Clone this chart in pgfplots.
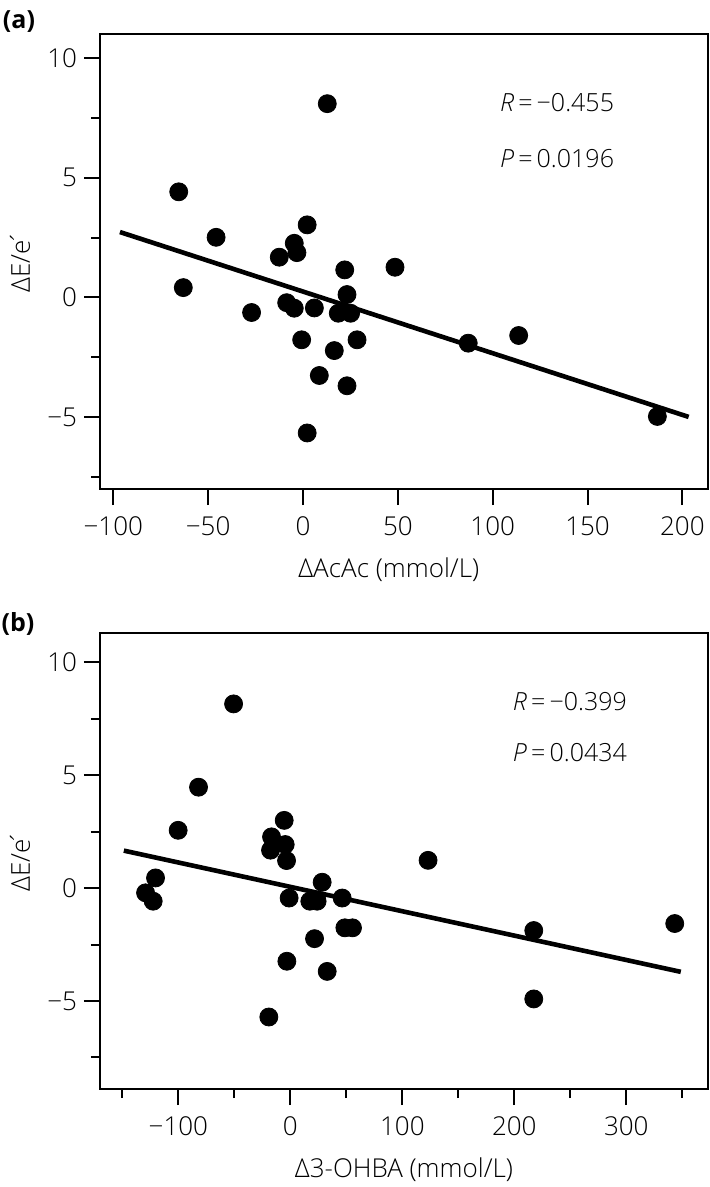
\documentclass[border=0pt]{standalone}
\usepackage{fontspec}
\setmainfont{Open Sans}[UprightFont={* Light}, ItalicFont={* Light Italic}, BoldFont={* Bold}]
\usepackage{pgfplots}
\pgfplotsset{compat=1.18}

\pgfplotstableread{
x y
12.8 8.09
-65.5 4.41
-45.8 2.51
-63.1 0.41
-27.1 -0.63
2.2 3.03
-4.6 2.26
-3.2 1.87
-12.5 1.68
22.0 1.15
48.5 1.26
23.2 0.12
-8.6 -0.22
-4.6 -0.45
6.0 -0.44
18.6 -0.66
25.1 -0.66
-0.7 -1.77
28.5 -1.77
16.5 -2.22
8.6 -3.26
23.2 -3.69
2.2 -5.66
87.1 -1.91
113.7 -1.59
186.8 -4.97
}\acac

\pgfplotstableread{
x y
-50.7 8.16
-82.0 4.47
-100.2 2.56
-120.4 0.45
-129.3 -0.21
-122.5 -0.58
-5.5 3.00
-16.8 2.27
-4.6 1.93
-17.7 1.68
-3.4 1.22
28.4 0.26
-1.1 -0.44
17.4 -0.58
23.9 -0.58
46.3 -0.44
48.7 -1.76
55.5 -1.76
21.6 -2.24
-3.1 -3.24
32.9 -3.69
-19.2 -5.71
123.0 1.23
217.4 -1.88
217.4 -4.91
343.3 -1.57
}\ohba

\pgfplotsset{
  myax/.style={
    scale only axis, width=304pt,
    axis line style={line width=1pt},
    tick align=outside, xtick pos=left, ytick pos=left,
    major tick length=8pt, minor tick length=4.5pt,
    tick style={line width=1pt, black},
    tick label style={font=\fontsize{13}{15}\selectfont},
    xticklabel style={yshift=-2.5pt},
    label style={font=\fontsize{13}{15}\selectfont},
    ytick={-5,0,5,10}, yticklabels={−5,0,5,10},
    minor ytick={-7.5,-2.5,2.5,7.5},
    ylabel={ΔE/e\kern-0.22em´},
    ylabel style={at={(axis description cs:-0.1316,0.5)}, anchor=center},
  }
}

\begin{document}
\begin{tikzpicture}
\path[use as bounding box] (0,0) rectangle (354.5pt,-593.5pt);
\node[font=\bfseries\fontsize{12.5}{14}\selectfont] at (9.5pt,-11pt) {(a)};
\node[font=\bfseries\fontsize{12.5}{14}\selectfont] at (9pt,-312pt) {(b)};

\begin{axis}[myax, at={(50pt,-244.5pt)}, anchor=south west,
  height=227.5pt, xmin=-107, xmax=213.5, ymin=-8, ymax=11,
  xtick={-100,-50,0,50,100,150,200},
  xticklabels={−100,−50,0,50,100,150,200},
  xlabel={ΔAcAc (mmol/L)},
  xlabel style={at={(axis description cs:0.475,0)}, anchor=center, yshift=-40.5pt}]
\addplot[black, line width=2.3pt] coordinates {(-96.5,2.73) (203.3,-4.99)};
\addplot[only marks, mark=*, mark size=4.5pt, black] table {\acac};
\node[anchor=west, font=\fontsize{12.5}{14}\selectfont] at (axis cs:100.2,8.15) {\textit{R}\,=\,−0.455};
\node[anchor=west, font=\fontsize{12.5}{14}\selectfont] at (axis cs:100.2,5.81) {\textit{P}\,=\,0.0196};
\end{axis}

\begin{axis}[myax, at={(50pt,-544.5pt)}, anchor=south west,
  height=228pt, xmin=-170, xmax=373, ymin=-8.9, ymax=11.3,
  xtick={-100,0,100,200,300},
  xticklabels={−100,0,100,200,300},
  minor xtick={-150,-50,50,150,250,350},
  xlabel={Δ3-OHBA (mmol/L)},
  xlabel style={at={(axis description cs:0.5,0)}, anchor=center, yshift=-40.5pt}]
\addplot[black, line width=2.3pt] coordinates {(-148.7,1.66) (348.7,-3.71)};
\addplot[only marks, mark=*, mark size=4.5pt, black] table {\ohba};
\node[anchor=west, font=\fontsize{12.5}{14}\selectfont] at (axis cs:192.5,8.26) {\textit{R}\,=\,−0.399};
\node[anchor=west, font=\fontsize{12.5}{14}\selectfont] at (axis cs:192.5,6.0) {\textit{P}\,=\,0.0434};
\end{axis}
\end{tikzpicture}
\end{document}
